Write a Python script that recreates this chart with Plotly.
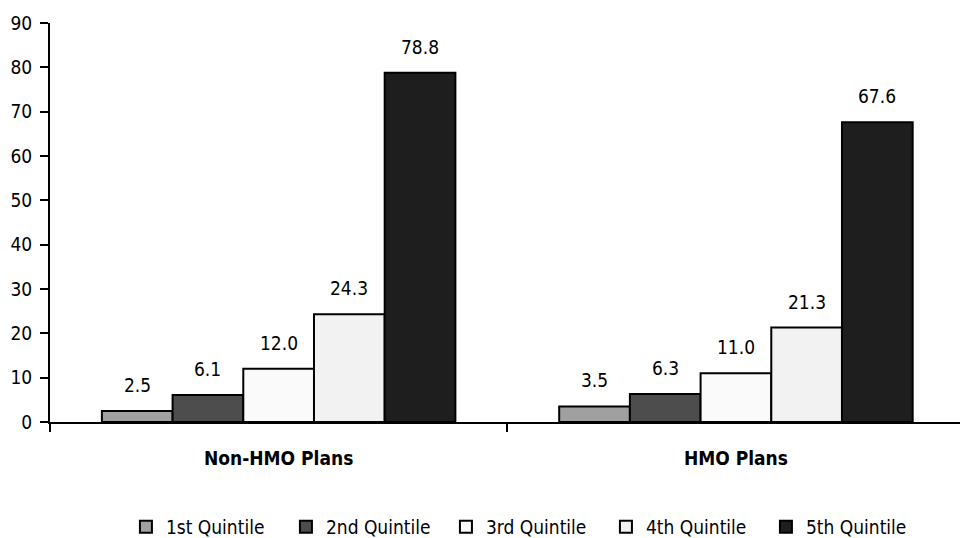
import plotly.graph_objects as go

categories = ["Non-HMO Plans", "HMO Plans"]
series_names = ["1st Quintile", "2nd Quintile", "3rd Quintile", "4th Quintile", "5th Quintile"]
q1 = [2.5, 3.5]
q2 = [6.1, 6.3]
q3 = [12.0, 11.0]
q4 = [24.3, 21.3]
q5 = [78.8, 67.6]
series_values = [q1, q2, q3, q4, q5]
colors = ["#A0A0A0", "#4D4D4D", "#FAFAFA", "#F2F2F2", "#1E1E1E"]
y_ticks = [0, 10, 20, 30, 40, 50, 60, 70, 80, 90]

FONT = "Liberation Sans Narrow, DejaVu Sans Condensed, Liberation Sans, sans-serif"
FS = 19
bargap = 0.227

fig = go.Figure()
for name, vals, col in zip(series_names, series_values, colors):
    fig.add_trace(go.Bar(
        x=categories, y=vals, name=name,
        marker=dict(color=col, line=dict(color="#000000", width=2)),
    ))

# value labels above bars
n = len(series_names)
w = (1 - bargap) / n
for i, vals in enumerate(series_values):
    off = -(1 - bargap) / 2 + w * (i + 0.5)
    for j, v in enumerate(vals):
        fig.add_annotation(
            x=j + off, y=v, xref="x", yref="y", text=f"{v:.1f}",
            showarrow=False, yanchor="bottom", yshift=13,
            font=dict(family=FONT, size=FS, color="#000000"),
        )

fig.update_layout(
    width=960, height=538,
    margin=dict(l=50, r=0, t=23, b=116, autoexpand=False),
    paper_bgcolor="white", plot_bgcolor="white",
    barmode="group", bargap=bargap, bargroupgap=0,
    font=dict(family=FONT, size=FS, color="#000000"),
    legend=dict(
        orientation="h", x=0.523, xanchor="center", y=-0.263, yanchor="middle",
        font=dict(family=FONT, size=FS), itemwidth=30, tracegroupgap=0,
        traceorder="normal", entrywidth=115, entrywidthmode="pixels",
    ),
    showlegend=True,
)
fig.update_xaxes(
    range=[-0.5, 1.49], showline=True, linecolor="#000000", linewidth=2,
    ticks="outside", tickson="boundaries", ticklen=8, tickcolor="#000000", tickwidth=2,
    tickfont=dict(family=FONT, size=FS, color="#000000", weight="bold"),
    ticklabelstandoff=18, showgrid=False, zeroline=False,
)
fig.update_yaxes(
    range=[0, 90], tickvals=y_ticks, showline=True, linecolor="#000000", linewidth=2,
    ticks="outside", ticklen=8, tickcolor="#000000", tickwidth=2,
    tickfont=dict(family=FONT, size=FS, color="#000000"),
    showgrid=False, zeroline=False, ticklabelstandoff=4,
)

fig.write_html("out.html")
